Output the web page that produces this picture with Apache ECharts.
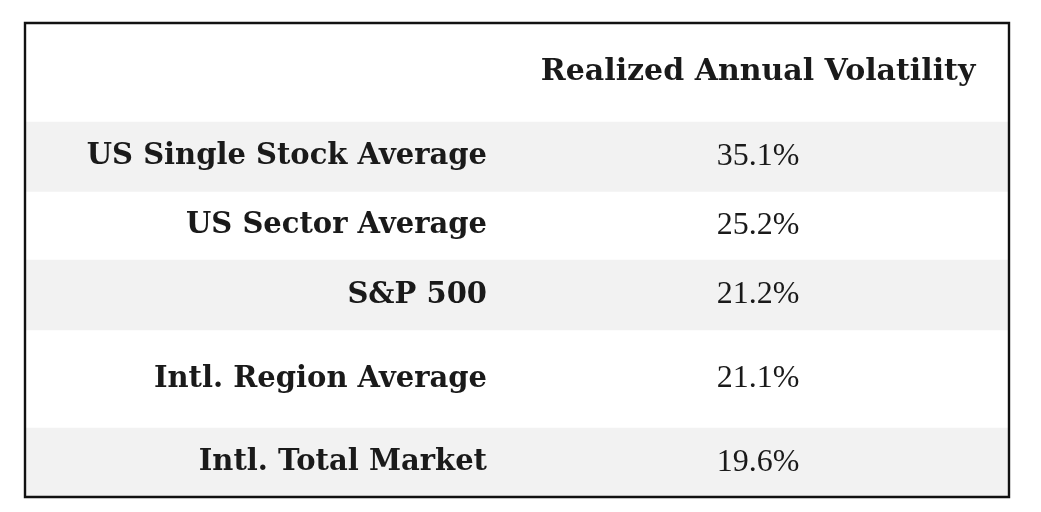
<!DOCTYPE html>
<html>
<head>
<meta charset="utf-8">
<script src="https://cdn.jsdelivr.net/npm/echarts@6/dist/echarts.min.js"></script>
<style>
html,body{margin:0;padding:0;background:#fff;}
#chart{width:1041px;height:512px;}
</style>
</head>
<body>
<div id="chart"></div>
<script>
// ---- data ----
var headerTitle = 'Realized Annual Volatility';
var categories = ['US Single Stock Average', 'US Sector Average', 'S&P 500', 'Intl. Region Average', 'Intl. Total Market'];
var volatility = [35.1, 25.2, 21.2, 21.1, 19.6];

// ---- layout (relative row heights: header first, then each category row) ----
var rowWeights = [1.41, 1, 0.97, 1.01, 1.39, 0.99];
var striped = [false, true, false, true, false, true];
var labelColRight = 0.4695;
var valueColCenter = 0.745;

var starts = [];
var acc = 0;
rowWeights.forEach(function (w) { starts.push(acc); acc += w; });
var total = acc;

var rows = [{ label: '', value: headerTitle, header: true }];
categories.forEach(function (c, i) {
  rows.push({ label: c, value: volatility[i].toFixed(1) + '%', header: false });
});

var headerFont = 'bold 30px "DejaVu Serif", serif';
var labelFont = 'bold 29px "DejaVu Serif", serif';
var valueFont = '32px "Liberation Serif", serif';

var chart = echarts.init(document.getElementById('chart'), null, { renderer: 'canvas' });
chart.setOption({
  backgroundColor: '#ffffff',
  animation: false,
  grid: { left: 25, right: 32, top: 23, bottom: 15, show: true, borderColor: '#111111', borderWidth: 2.4, backgroundColor: 'transparent', z: 10 },
  xAxis: { type: 'value', min: 0, max: 1, show: false },
  yAxis: { type: 'value', min: 0, max: total, inverse: true, show: false },
  series: [{
    type: 'custom',
    silent: true,
    data: rows.map(function (r, i) { return [i]; }),
    renderItem: function (params, api) {
      var i = api.value(0);
      var r = rows[i];
      var p0 = api.coord([0, starts[i]]);
      var p1 = api.coord([1, starts[i] + rowWeights[i]]);
      var midY = (p0[1] + p1[1]) / 2;
      var children = [];
      if (striped[i]) {
        children.push({ type: 'rect', shape: { x: p0[0], y: p0[1], width: p1[0] - p0[0], height: p1[1] - p0[1] }, style: { fill: '#f2f2f2' } });
      }
      var lx = api.coord([labelColRight, 0])[0];
      var vx = api.coord([valueColCenter, 0])[0];
      if (r.label) {
        children.push({ type: 'text', style: { x: lx, y: midY, text: r.label, fill: '#1a1a1a', align: 'right', verticalAlign: 'middle', font: labelFont } });
      }
      children.push({ type: 'text', style: { x: vx, y: midY, text: r.value, fill: '#1a1a1a', align: 'center', verticalAlign: 'middle', font: r.header ? headerFont : valueFont } });
      return { type: 'group', children: children };
    }
  }]
});
</script>
</body>
</html>
